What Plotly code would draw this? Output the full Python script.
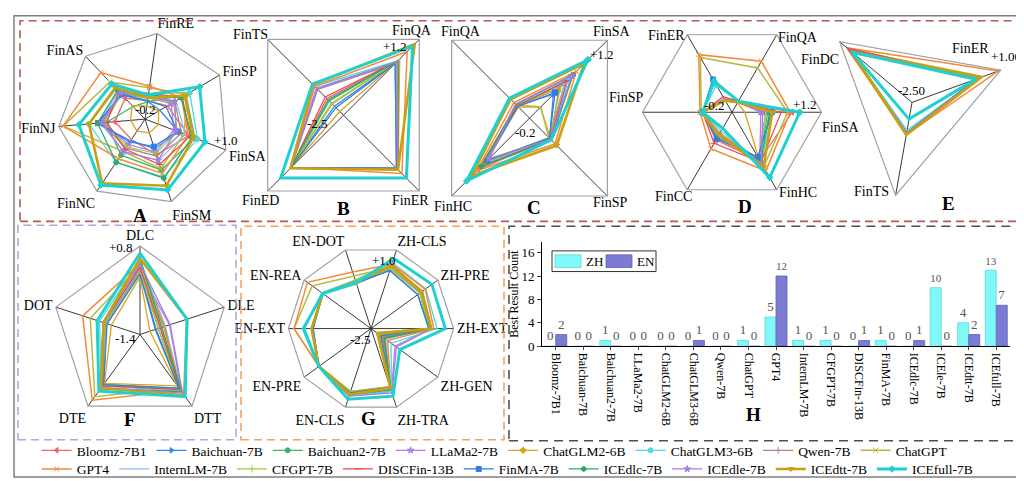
import plotly.graph_objects as go

SERIF = "Liberation Serif"
W, H = 1024, 481

models = ["Bloomz-7B1", "Baichuan-7B", "Baichuan2-7B", "LLaMa2-7B", "ChatGLM2-6B", "ChatGLM3-6B",
          "Qwen-7B", "ChatGPT", "GPT4", "InternLM-7B", "CFGPT-7B", "DISCFin-13B", "FinMA-7B",
          "ICEdlc-7B", "ICEdle-7B", "ICEdtt-7B", "ICEfull-7B"]
colors = ["#f26464", "#3a86e8", "#3cb371", "#b07fe8", "#d9a520", "#4dd9e0", "#a08888", "#b8b840",
          "#f58a3a", "#8fb8e8", "#9acd32", "#e84848", "#2f7fe0", "#2ea868", "#a67de0", "#c9a010", "#1fd0d0"]
symbols = ["triangle-left", "triangle-right", "circle", "star", "diamond", "circle", "line-ns", "x-thin",
           "x-thin", None, "line-ns", "line-ew", "square", "hexagon", "star", "triangle-down", "diamond"]
widths = [1.3, 1.3, 1.3, 1.3, 1.3, 1.3, 1.3, 1.5, 1.5, 1.2, 1.2, 1.2, 1.3, 1.3, 1.3, 2.6, 3.0]

# ---------------- A ----------------
A_axes = ["FinRE", "FinSP", "FinSA", "FinSM", "FinNC", "FinNJ", "FinAS"]
A_vals = {
    "Bloomz-7B1":  [0.06, 0.16, 0.45, 0.32, 0.14, 0.22, 0.20],
    "Baichuan-7B": [0.05, 0.04, 0.30, 0.23, 0.16, 0.47, 0.26],
    "Baichuan2-7B":[0.04, 0.46, 0.54, 0.54, 0.40, 0.34, 0.04],
    "LLaMa2-7B":   [0.10, 0.22, 0.23, 0.28, 0.22, 0.38, 0.28],
    "ChatGLM2-6B": [-0.02, 0.02, 0.00, 0.00, 0.00, 0.00, 0.06],
    "ChatGLM3-6B": [0.16, 0.52, 0.58, 0.64, 0.52, 0.58, 0.38],
    "Qwen-7B":     [0.10, 0.28, 0.34, 0.34, 0.28, 0.40, 0.30],
    "ChatGPT":     [0.24, 0.48, 0.38, 0.52, 0.34, 0.94, 0.51],
    "GPT4":        [0.26, 0.39, 0.44, 0.59, 0.46, 0.94, 0.69],
    "InternLM-7B": [0.12, 0.30, 0.40, 0.40, 0.34, 0.42, 0.34],
    "CFGPT-7B":    [0.09, 0.26, 0.28, 0.30, 0.26, 0.35, 0.28],
    "DISCFin-13B": [0.16, 0.40, 0.47, 0.46, 0.30, 0.33, 0.33],
    "FinMA-7B":    [0.06, 0.14, 0.28, 0.20, 0.18, 0.45, 0.28],
    "ICEdlc-7B":   [0.14, 0.38, 0.50, 0.66, 0.52, 0.46, 0.35],
    "ICEdle-7B":   [0.12, 0.28, 0.26, 0.40, 0.34, 0.40, 0.30],
    "ICEdtt-7B":   [0.10, 0.44, 0.52, 0.77, 0.87, 0.58, 0.40],
    "ICEfull-7B":  [0.14, 0.68, 0.69, 0.83, 0.90, 0.72, 0.47],
}
# ---------------- B ----------------
B_axes = ["FinQA", "FinER", "FinED", "FinTS"]
B_vals = {
    "Bloomz-7B1":  [0.16, 0.13, 0.05, -1.69],
    "Baichuan-7B": [0.09, 0.09, 0.05, -2.06],
    "Baichuan2-7B":[0.13, 0.13, 0.05, -1.80],
    "LLaMa2-7B":   [0.09, 0.09, 0.05, -1.17],
    "ChatGLM2-6B": [0.09, 0.09, 0.05, -2.32],
    "ChatGLM3-6B": [0.16, 0.13, 0.09, -1.09],
    "Qwen-7B":     [0.02, 0.09, 0.05, -1.24],
    "ChatGPT":     [0.24, 0.16, 0.05, -1.95],
    "GPT4":        [0.61, 0.35, 0.05, -1.09],
    "InternLM-7B": [0.13, 0.13, 0.05, -1.76],
    "CFGPT-7B":    [0.09, 0.09, 0.05, -1.91],
    "DISCFin-13B": [0.16, 0.16, 0.05, -1.61],
    "FinMA-7B":    [0.02, 0.09, 0.05, -2.13],
    "ICEdlc-7B":   [0.16, 0.13, 0.09, -1.76],
    "ICEdle-7B":   [0.13, 0.13, 0.09, -1.21],
    "ICEdtt-7B":   [0.98, 0.16, 0.09, -1.02],
    "ICEfull-7B":  [0.87, 0.57, 0.57, -0.98],
}
# ---------------- C ----------------
C_axes = ["FinSA", "FinSP", "FinHC", "FinQA"]
C_vals = {
    "Bloomz-7B1":  [0.33, 0.18, 0.72, 0.02],
    "Baichuan-7B": [0.23, 0.16, 0.57, 0.02],
    "Baichuan2-7B":[0.58, 0.19, 0.64, 0.04],
    "LLaMa2-7B":   [0.56, 0.18, 0.53, 0.05],
    "ChatGLM2-6B": [0.00, 0.18, 0.61, 0.00],
    "ChatGLM3-6B": [0.50, 0.19, 0.67, 0.02],
    "Qwen-7B":     [0.43, 0.16, 0.57, 0.02],
    "ChatGPT":     [0.00, 0.15, 0.57, 0.04],
    "GPT4":        [0.64, 0.26, 0.75, 0.08],
    "InternLM-7B": [0.43, 0.18, 0.61, 0.02],
    "CFGPT-7B":    [0.36, 0.16, 0.58, 0.02],
    "DISCFin-13B": [0.47, 0.18, 0.67, 0.02],
    "FinMA-7B":    [0.26, 0.16, 0.56, 0.01],
    "ICEdlc-7B":   [0.58, 0.19, 0.67, 0.04],
    "ICEdle-7B":   [0.56, 0.18, 0.53, 0.05],
    "ICEdtt-7B":   [0.78, 0.29, 0.84, 0.14],
    "ICEfull-7B":  [0.85, 0.19, 0.93, 0.16],
}
# ---------------- D ----------------
D_axes = ["FinSA", "FinQA", "FinER", "FinSP", "FinCC", "FinHC"]
D_vals = {
    "Bloomz-7B1":  [0.74, 0.00, 0.05, 0.26, 0.30, 0.67],
    "Baichuan-7B": [0.43, 0.00, 0.40, 0.26, 0.26, 0.61],
    "Baichuan2-7B":[0.36, 0.00, 0.02, 0.26, 0.22, 0.67],
    "LLaMa2-7B":   [0.25, -0.02, 0.02, 0.26, 0.21, 0.67],
    "ChatGLM2-6B": [0.00, -0.03, 0.01, 0.26, 0.18, 0.64],
    "ChatGLM3-6B": [0.43, 0.00, 0.29, 0.26, 0.14, 0.71],
    "Qwen-7B":     [0.33, 0.00, 0.04, 0.26, 0.22, 0.64],
    "ChatGPT":     [0.67, 0.60, 0.79, 0.28, 0.22, 0.79],
    "GPT4":        [0.71, 0.72, 0.84, 0.30, 0.46, 0.86],
    "InternLM-7B": [0.39, 0.00, 0.04, 0.26, 0.23, 0.67],
    "CFGPT-7B":    [0.33, -0.02, 0.02, 0.26, 0.22, 0.64],
    "DISCFin-13B": [0.57, 0.00, 0.08, 0.26, 0.36, 0.70],
    "FinMA-7B":    [0.42, 0.00, 0.39, 0.26, 0.28, 0.61],
    "ICEdlc-7B":   [0.39, 0.00, 0.02, 0.26, 0.21, 0.70],
    "ICEdle-7B":   [0.28, -0.02, 0.02, 0.26, 0.19, 0.72],
    "ICEdtt-7B":   [0.43, -0.02, 0.01, 0.28, 0.21, 0.79],
    "ICEfull-7B":  [0.86, 0.00, 0.36, 0.26, 0.09, 0.98],
}
# ---------------- E ----------------
E_axes = ["FinDC", "FinER", "FinTS"]
E_vals = {
    "Bloomz-7B1":  [0.65, 0.13, -1.35],
    "Baichuan-7B": [0.51, 0.02, -1.35],
    "Baichuan2-7B":[0.37, 0.09, -1.31],
    "LLaMa2-7B":   [0.48, 0.06, -1.35],
    "ChatGLM2-6B": [0.37, 0.16, -1.31],
    "ChatGLM3-6B": [0.51, 0.13, -1.45],
    "Qwen-7B":     [0.44, 0.06, -1.35],
    "ChatGPT":     [0.55, 0.30, -1.28],
    "GPT4":        [0.65, 0.90, -1.28],
    "InternLM-7B": [0.48, 0.09, -1.35],
    "CFGPT-7B":    [0.30, 0.20, -1.31],
    "DISCFin-13B": [0.62, 0.16, -1.35],
    "FinMA-7B":    [0.51, 0.02, -1.35],
    "ICEdlc-7B":   [0.41, 0.23, -1.31],
    "ICEdle-7B":   [0.48, 0.09, -1.35],
    "ICEdtt-7B":   [0.44, 0.23, -1.28],
    "ICEfull-7B":  [0.41, 0.02, -1.87],
}
# ---------------- F ----------------
F_axes = ["DLC", "DLE", "DTT", "DTE", "DOT"]
F_vals = {
    "Bloomz-7B1":  [0.32, -0.92, 0.29, 0.14, -0.50],
    "Baichuan-7B": [0.14, -0.98, 0.27, 0.14, -0.52],
    "Baichuan2-7B":[0.23, -0.85, 0.29, 0.18, -0.48],
    "LLaMa2-7B":   [0.18, -0.63, 0.36, 0.14, -0.52],
    "ChatGLM2-6B": [0.03, -1.14, 0.18, 0.10, -0.65],
    "ChatGLM3-6B": [0.45, -0.74, 0.36, 0.23, -0.34],
    "Qwen-7B":     [0.18, -0.78, 0.32, 0.16, -0.50],
    "ChatGPT":     [0.32, -0.85, 0.23, 0.51, -0.10],
    "GPT4":        [0.36, -0.76, 0.32, 0.62, 0.10],
    "InternLM-7B": [0.23, -0.87, 0.32, 0.18, -0.48],
    "CFGPT-7B":    [0.14, -0.92, 0.25, 0.14, -0.52],
    "DISCFin-13B": [0.27, -0.87, 0.29, 0.18, -0.45],
    "FinMA-7B":    [0.10, -1.00, 0.25, 0.14, -0.54],
    "ICEdlc-7B":   [0.49, -0.83, 0.36, 0.27, -0.43],
    "ICEdle-7B":   [0.36, -0.61, 0.40, 0.23, -0.43],
    "ICEdtt-7B":   [0.49, -0.17, 0.47, 0.25, -0.45],
    "ICEfull-7B":  [0.62, -0.17, 0.51, 0.34, -0.28],
}
# ---------------- G ----------------
G_axes = ["ZH-CLS", "ZH-PRE", "ZH-EXT", "ZH-GEN", "ZH-TRA", "EN-CLS", "EN-PRE", "EN-EXT", "EN-REA", "EN-DOT"]
G_vals = {
    "Bloomz-7B1":  [0.30, 0.16, 0.02, -1.87, 0.16, 0.37, 0.23, 0.02, 0.02, -0.47],
    "Baichuan-7B": [0.09, -0.05, -0.05, -2.01, 0.13, 0.37, 0.23, -0.05, 0.02, -0.47],
    "Baichuan2-7B":[0.23, 0.13, 0.02, -1.94, 0.20, 0.41, 0.23, -0.02, 0.02, -0.47],
    "LLaMa2-7B":   [0.20, 0.09, 0.02, -1.24, 0.30, 0.44, 0.23, 0.02, 0.02, -0.47],
    "ChatGLM2-6B": [0.16, 0.06, -0.05, -2.22, 0.09, 0.30, 0.20, 0.02, 0.02, -0.51],
    "ChatGLM3-6B": [0.44, 0.37, 0.30, -1.45, 0.30, 0.51, 0.23, 0.30, 0.09, -0.33],
    "Qwen-7B":     [0.20, 0.09, 0.02, -1.80, 0.20, 0.37, 0.23, -0.02, 0.02, -0.47],
    "ChatGPT":     [0.23, 0.16, 0.02, -2.08, 0.09, 0.30, 0.23, 0.76, 0.58, -0.16],
    "GPT4":        [0.37, 0.34, 0.16, -1.63, 0.20, 0.41, 0.23, 0.76, 0.83, 0.02],
    "InternLM-7B": [0.23, 0.13, 0.02, -1.73, 0.23, 0.41, 0.23, 0.02, 0.02, -0.47],
    "CFGPT-7B":    [0.16, 0.06, -0.02, -1.98, 0.16, 0.37, 0.23, -0.02, 0.02, -0.47],
    "DISCFin-13B": [0.34, 0.16, 0.06, -1.80, 0.20, 0.41, 0.23, 0.02, 0.02, -0.47],
    "FinMA-7B":    [0.09, -0.05, -0.05, -1.98, 0.13, 0.37, 0.23, -0.05, 0.02, -0.47],
    "ICEdlc-7B":   [0.30, 0.16, 0.02, -1.80, 0.23, 0.44, 0.23, 0.02, 0.02, -0.47],
    "ICEdle-7B":   [0.30, 0.20, 0.06, -1.17, 0.37, 0.51, 0.23, 0.02, 0.02, -0.47],
    "ICEdtt-7B":   [0.30, 0.16, 0.06, -2.15, 0.16, 0.44, 0.23, 0.02, 0.02, -0.40],
    "ICEfull-7B":  [0.62, 0.69, 0.65, -0.99, 0.51, 0.65, 0.23, 0.37, 0.02, -0.47],
}
# ---------------- H ----------------
H_models = ["Bloomz-7B1", "Baichuan-7B", "Baichuan2-7B", "LLaMa2-7B", "ChatGLM2-6B", "ChatGLM3-6B",
            "Qwen-7B", "ChatGPT", "GPT4", "InternLM-7B", "CFGPT-7B", "DISCFin-13B", "FinMA-7B",
            "ICEdlc-7B", "ICEle-7B", "ICEdtt-7B", "ICEfull-7B"]
H_zh = [0, 0, 1, 0, 0, 0, 0, 1, 5, 1, 1, 0, 1, 0, 10, 4, 13]
H_en = [2, 0, 0, 0, 0, 1, 0, 0, 12, 0, 0, 1, 0, 1, 0, 2, 7]
ZH_COLOR, EN_COLOR = "#80f8f8", "#7b7bd4"

# axis-label positions (pixels) for panels whose labels sit close to the vertices, as in the reference
label_pos = {
    "polar2": {"FinTS": (242, 27), "FinQA": (404, 23), "FinED": (252, 196), "FinER": (402, 196)},
    "polar3": {"FinQA": (453, 24), "FinSA": (603, 24), "FinHC": (445, 202), "FinSP": (602, 198)},
    "polar4": {"FinER": (658, 28), "FinQA": (790, 30), "FinSA": (832, 122), "FinHC": (790, 188),
               "FinCC": (665, 192), "FinSP": (618, 91)},
    "polar5": {"FinDC": (812, 52), "FinER": (962, 41), "FinTS": (863, 187)},
}
# pixel positions of the radial-range labels (min, max) for every panel
range_label_pos = {
    "polar": [(137, 103), (218, 135)],
    "polar2": [(309, 117), (387, 39)],
    "polar3": [(517, 127), (594, 47)],
    "polar4": [(706, 99), (797, 98)],
    "polar5": [(903, 84), (998, 49)],
    "polar6": [(117, 336), (113, 244)],
    "polar7": [(352, 337), (376, 257)],
}


def px_dom(cx, cy, r):
    return dict(x=[(cx - r) / W, (cx + r) / W], y=[max(0, 1 - (cy + r) / H), min(1, 1 - (cy - r) / H)])


panels = [
    # name, axes, vals, center/radius(px), rotation, direction, range, ticktext
    ("polar", A_axes, A_vals, (137, 113, 88), 82, "clockwise", (-0.2, 1.0), ["-0.2", "+1.0"]),
    ("polar2", B_axes, B_vals, (335.5, 109, 109), 45, "clockwise", (-2.5, 1.2), ["-2.5", "+1.2"]),
    ("polar3", C_axes, C_vals, (521.5, 112, 112), 45, "clockwise", (-0.2, 1.2), ["-0.2", "+1.2"]),
    ("polar4", D_axes, D_vals, (724, 106, 91), 0, "counterclockwise", (-0.2, 1.2), ["-0.2", "+1.2"]),
    ("polar5", E_axes, E_vals, (904, 96, 96), 140, "clockwise", (-2.5, 1.0), ["-2.50", "+1.00"]),
    ("polar6", F_axes, F_vals, (132, 332, 90), 90, "clockwise", (-1.4, 0.8), ["-1.4", "+0.8"]),
    ("polar7", G_axes, G_vals, (363, 326, 84), 72, "clockwise", (-2.5, 1.0), ["-2.5", "+1.0"]),
]

fig = go.Figure()
layout_polars = {}
annotations = []


def add_text(txt, x, y, size=14, xanchor="center"):
    annotations.append(dict(text=txt, x=x / W, y=1 - y / H, xref="paper", yref="paper", showarrow=False,
                            xanchor=xanchor, yanchor="middle", font=dict(family=SERIF, size=size, color="black")))


for pi, (pname, axes, vals, (cx, cy, r), rot, direc, rng, ttxt) in enumerate(panels):
    for mi, m in enumerate(models):
        v = vals[m]
        sym = symbols[mi]
        mode = "lines" if sym is None else "lines+markers"
        fig.add_trace(go.Scatterpolar(
            r=v + [v[0]], theta=axes + [axes[0]], subplot=pname, name=m, mode=mode,
            line=dict(color=colors[mi], width=widths[mi]),
            marker=dict(symbol=sym or "circle", size=5, color=colors[mi],
                        line=dict(color=colors[mi], width=1)),
            showlegend=(pi == 0), legend=("legend" if mi < 8 else "legend2"),
        ))
    custom = pname in label_pos
    layout_polars[pname] = dict(
        domain=px_dom(cx, cy, r), gridshape="linear", bgcolor="rgba(0,0,0,0)",
        angularaxis=dict(rotation=rot, direction=direc, showline=True, linecolor="#a0a0a0", linewidth=1.2,
                         showgrid=True, gridcolor="#3a3a3a", gridwidth=1, ticks="",
                         categoryorder="array", categoryarray=axes, showticklabels=not custom,
                         tickfont=dict(family=SERIF, size=14, color="black")),
        radialaxis=dict(range=list(rng), showgrid=False, showline=False, tickvals=list(rng),
                        showticklabels=False, ticks=""),
    )
    if custom:
        for ax_name in axes:
            lx, ly = label_pos[pname][ax_name]
            add_text(ax_name, lx, ly)
    for txt, (lx, ly) in zip(ttxt, range_label_pos[pname]):
        add_text(txt, lx, ly, size=13)

fig.add_trace(go.Bar(x=H_models, y=H_zh, name="ZH", marker=dict(color=ZH_COLOR, line=dict(color="#5ad8e0", width=0.8)),
                     text=H_zh, textposition="outside", cliponaxis=False, showlegend=False,
                     textfont=dict(family=SERIF, size=13, color="#555")))
fig.add_trace(go.Bar(x=H_models, y=H_en, name="EN", marker=dict(color=EN_COLOR, line=dict(color="#6060b8", width=0.8)),
                     text=H_en, textposition="outside", cliponaxis=False, showlegend=False,
                     textfont=dict(family=SERIF, size=13, color="#555")))


def prect(x0, y0, x1, y1, **kw):
    return dict(type="rect", xref="paper", yref="paper", x0=x0 / W, x1=x1 / W, y0=1 - y1 / H, y1=1 - y0 / H, **kw)


shapes = [
    prect(6, 8, 1019, 477, line=dict(color="#808080", width=1.5)),
    prect(12, 13, 1012, 217, line=dict(color="#b55a55", width=1.6, dash="8px,5px")),
    prect(10, 221, 228, 439, line=dict(color="#b4a6d6", width=1.6, dash="8px,5px")),
    prect(233, 222, 496, 439, line=dict(color="#f4a25e", width=1.6, dash="8px,5px")),
    prect(501, 222, 1012, 440, line=dict(color="#505050", width=1.6, dash="9px,6px")),
    # bar-chart key
    prect(544, 247, 648, 268, line=dict(color="#333333", width=1), fillcolor="white", layer="above"),
    prect(547, 251, 573, 264, line=dict(color="#5ad8e0", width=0.8), fillcolor=ZH_COLOR, layer="above"),
    prect(598, 251, 624, 264, line=dict(color="#6060b8", width=0.8), fillcolor=EN_COLOR, layer="above"),
]
add_text("ZH", 576, 258, size=13, xanchor="left")
add_text("EN", 627, 258, size=13, xanchor="left")

letters = [("A", 132, 211), ("B", 335, 204), ("C", 526, 203), ("D", 737, 202), ("E", 940, 199),
           ("F", 122, 418), ("G", 360, 417), ("H", 745, 413)]
for t, x, y in letters:
    add_text("<b>%s</b>" % t, x, y, size=19)

fig.update_layout(
    width=W, height=H, margin=dict(l=0, r=0, t=0, b=0),
    paper_bgcolor="white", plot_bgcolor="white",
    font=dict(family=SERIF, size=13, color="black"),
    shapes=shapes, annotations=annotations,
    barmode="group", bargap=0.2, bargroupgap=0.0,
    xaxis=dict(domain=[534 / W, 1002 / W], anchor="y", tickangle=90, showline=True, linecolor="black",
               linewidth=1, ticks="outside", ticklen=3, tickfont=dict(family=SERIF, size=12, color="black"),
               showgrid=False),
    yaxis=dict(domain=[1 - 344 / H, 1 - 238 / H], anchor="x", range=[0, 17.8], tickvals=[0, 4, 8, 12, 16],
               showline=True, linecolor="black", linewidth=1, ticks="outside", ticklen=4, showgrid=False,
               zeroline=False, tickfont=dict(family=SERIF, size=13, color="black"),
               title=dict(text="Best Result Count", font=dict(family=SERIF, size=12, color="black"), standoff=0)),
    legend=dict(orientation="h", x=0.028, xanchor="left", y=1 - 450 / H, yanchor="middle",
                font=dict(family=SERIF, size=13.5, color="black"), bgcolor="rgba(0,0,0,0)", itemwidth=30),
    legend2=dict(orientation="h", x=0.028, xanchor="left", y=1 - 469 / H, yanchor="middle",
                 font=dict(family=SERIF, size=13.5, color="black"), bgcolor="rgba(0,0,0,0)", itemwidth=30),
    **layout_polars,
)

fig.write_html("out.html")
